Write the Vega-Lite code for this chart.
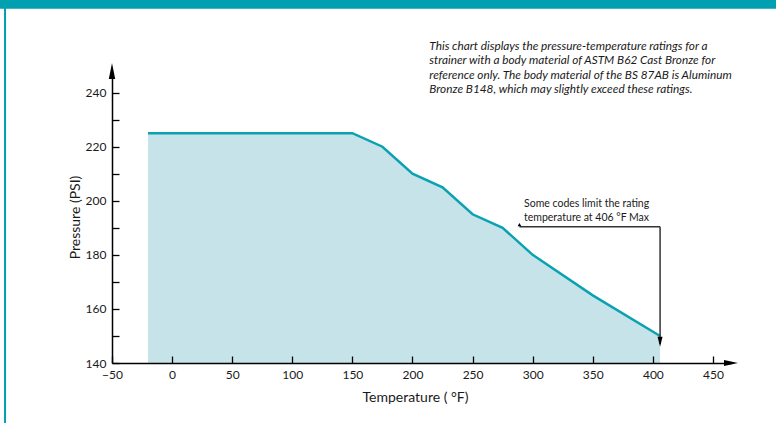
{
  "$schema": "https://vega.github.io/schema/vega-lite/v6.json",
  "width": 619,
  "height": 292,
  "autosize": {"type": "none"},
  "padding": {"left": 112, "top": 71, "right": 45, "bottom": 60},
  "background": "white",
  "config": {
    "view": {"stroke": null},
    "font": "Lato",
    "axis": {
      "grid": false,
      "domainColor": "#000000",
      "domainWidth": 1.5,
      "tickColor": "#000000",
      "tickWidth": 1.3,
      "tickSize": -7,
      "labelFont": "Lato",
      "labelFontSize": 12,
      "labelColor": "#1a1a1a",
      "titleFont": "Lato",
      "titleFontSize": 14,
      "titleFontWeight": "normal",
      "titleColor": "#1a1a1a"
    }
  },
  "encoding": {
    "x": {
      "field": "t",
      "type": "quantitative",
      "scale": {"domain": [-50, 465], "nice": false, "zero": false},
      "axis": {
        "zindex": 2,
        "values": [-50, 0, 50, 100, 150, 200, 250, 300, 350, 400, 450],
        "title": "Temperature ( °F)",
        "titleX": 303,
        "labelPadding": 13,
        "titlePadding": 10,
        "labelFlush": false
      }
    },
    "y": {
      "field": "p",
      "type": "quantitative",
      "scale": {"domain": [140, 248], "nice": false, "zero": false},
      "axis": {
        "zindex": 2,
        "values": [140, 150, 160, 170, 180, 190, 200, 210, 220, 230, 240],
        "labelExpr": "datum.value % 20 === 0 ? datum.label : ''",
        "title": "Pressure (PSI)",
        "labelPadding": 13,
        "titlePadding": 3
      }
    }
  },
  "layer": [
    {
      "data": {
        "values": [
          {"t": -20, "p": 225},
          {"t": 150, "p": 225},
          {"t": 175, "p": 220},
          {"t": 200, "p": 210},
          {"t": 225, "p": 205},
          {"t": 250, "p": 195},
          {"t": 275, "p": 190},
          {"t": 300, "p": 180},
          {"t": 350, "p": 165},
          {"t": 406, "p": 150}
        ]
      },
      "mark": {
        "type": "area",
        "color": "#c5e3e8",
        "opacity": 1,
        "line": {"color": "#0aa2b2", "strokeWidth": 2.5}
      },
      "encoding": {"y2": {"datum": 140}}
    },
    {
      "data": {"values": [{"t": -150, "t2": 600, "p": 271.0, "p2": 285}]},
      "mark": {"type": "rect", "color": "#00a0b0"},
      "encoding": {"x2": {"field": "t2"}, "y2": {"field": "p2"}}
    },
    {
      "data": {"values": [{"t": -139, "p": 100, "p2": 272}]},
      "mark": {"type": "rule", "color": "#00a0b0", "strokeWidth": 2},
      "encoding": {"y2": {"field": "p2"}}
    },
    {
      "data": {"values": [{"t": 289, "t2": 406, "p": 190.4}]},
      "mark": {"type": "rule", "color": "#333333", "strokeWidth": 1.5},
      "encoding": {"x2": {"field": "t2"}}
    },
    {
      "data": {"values": [{"t": 406, "p": 190.4, "p2": 147}]},
      "mark": {"type": "rule", "color": "#333333", "strokeWidth": 1.5},
      "encoding": {"y2": {"field": "p2"}}
    },
    {
      "data": {"values": [{"t": 406, "p": 147.9}]},
      "mark": {"type": "point", "shape": "M0,1L-0.5,-1L0.5,-1Z", "size": 100, "filled": true, "color": "#000000", "opacity": 1}
    },
    {
      "data": {"values": [{"t": 289, "p": 191.2}]},
      "mark": {"type": "point", "shape": "triangle-up", "size": 14, "filled": true, "color": "#000000", "opacity": 1}
    },
    {
      "data": {"values": [{"t": -50, "p": 248}]},
      "mark": {"type": "point", "shape": "M0,-1L0.4,1L-0.4,1Z", "size": 256, "filled": true, "color": "#000000", "opacity": 1}
    },
    {
      "data": {"values": [{"t": 465, "p": 140}]},
      "mark": {"type": "point", "shape": "M1,0L-1,0.43L-1,-0.43Z", "size": 196, "filled": true, "color": "#000000", "opacity": 1}
    },
    {
      "data": {"values": [{"t": 292.8, "p": 200.7, "label": "Some codes limit the rating\ntemperature at 406 °F Max"}]},
      "mark": {"type": "text", "align": "left", "baseline": "top", "fontSize": 10.5, "lineHeight": 14, "lineBreak": "\n", "color": "#1a1a1a", "font": "Lato"},
      "encoding": {"text": {"field": "label"}}
    },
    {
      "data": {"values": [{"t": 214, "p": 259.2, "label": "This chart displays the pressure-temperature ratings for a\nstrainer with a body material of ASTM B62 Cast Bronze for\nreference only. The body material of the BS 87AB is Aluminum\nBronze B148, which may slightly exceed these ratings."}]},
      "mark": {"type": "text", "align": "left", "baseline": "top", "fontSize": 11.8, "fontStyle": "italic", "lineHeight": 14.4, "lineBreak": "\n", "color": "#1a1a1a", "font": "Lato"},
      "encoding": {"text": {"field": "label"}}
    }
  ]
}
